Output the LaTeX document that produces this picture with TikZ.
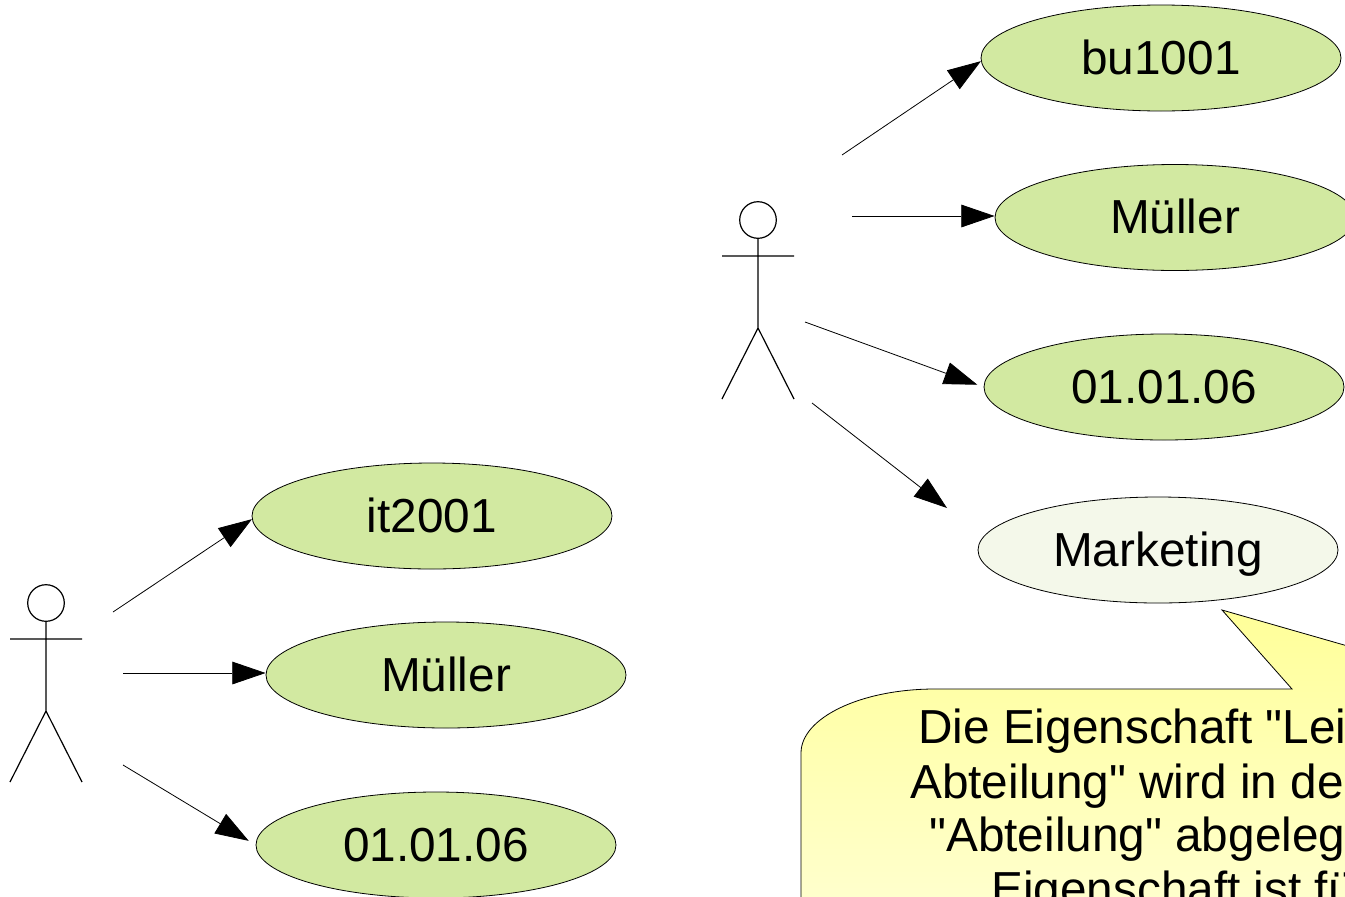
\documentclass[tikz,border=0pt]{standalone}
\usepackage{fontspec}
\setmainfont{Liberation Sans}
\newfontfamily\notefont{Liberation Sans}
\usetikzlibrary{shapes.geometric,arrows.meta}
\definecolor{usegreen}{HTML}{D2E9A1}
\definecolor{usepale}{HTML}{F4F8EA}
\definecolor{notetop}{HTML}{FFFF99}
\definecolor{notebottom}{HTML}{FFFFD2}
\tikzset{
  usecase/.style={ellipse,draw,line width=0.6pt,fill=usegreen,minimum width=270pt,minimum height=79.5pt,inner sep=0pt,text height=24.5pt,text depth=0pt,font=\fontsize{35.8}{40}\selectfont},
  assoc/.style={line width=0.6pt,-{Triangle[length=25pt,width=17pt]}},
  noteline/.style={anchor=base west,inner sep=0pt,font=\notefont\fontsize{35.8}{40}\selectfont},
  actor/.pic={
    \draw[line width=0.9pt] (0,0) circle (18.3);
    \draw[line width=0.9pt] (0,-18.3) -- (0,-108) (-36,-36) -- (36,-36) (-36,-179) -- (0,-108) -- (36,-179);
  }
}
\begin{document}
\begin{tikzpicture}[x=0.75pt,y=0.75pt]
  \useasboundingbox (0,0) rectangle (1345,-896);

  % note
  \path[draw,line width=0.6pt,top color=notetop,bottom color=notebottom]
    (801,-930) -- (801,-753) arc[start angle=180,end angle=90,x radius=134,y radius=64]
    -- (1292,-689) -- (1222,-610) -- (1400,-661) -- (1400,-930) -- cycle;
  \node[noteline] (n1) at (918,-743) {Die Eigenschaft "Lei};
  \node[noteline] (n2) at (910,-798) {Abteilung" wird in de};
  \node[noteline] (n3) at (929,-851) {"Abteilung" abgeleg};
  \node[noteline] (n4) at (991,-905) {Eigenschaft ist fü};

  % right group
  \pic at (758,-220) {actor};
  \node[usecase] (b1) at (1161,-58) {bu1001};
  \node[usecase] (b2) at (1175,-217.5) {Müller};
  \node[usecase] (b3) at (1164,-387) {01.01.06};
  \node[usecase,fill=usepale] (b4) at (1158,-550) {Marketing};

  \coordinate (r1) at (842,-155);
  \coordinate (r2) at (852,-216);
  \coordinate (r3) at (805,-322);
  \coordinate (r4) at (812,-403);
  \coordinate (r5) at (947,-508);

  \draw[assoc] (r1) to (b1.181);
  \draw[assoc] (r2) to (r2 -| b2.west);
  \draw[assoc,shorten >=5pt] (r3) to (b3.west);
  \draw[assoc] (r4) to (r5);

  % left group
  \pic at (46,-603) {actor};
  \node[usecase] (a1) at (432,-516) {it2001};
  \node[usecase] (a2) at (446,-675) {Müller};
  \node[usecase] (a3) at (436,-845) {01.01.06};

  \coordinate (l1) at (113,-612);
  \coordinate (l2) at (123,-673);
  \coordinate (l3) at (123,-765);

  \draw[assoc] (l1) to (a1.181);
  \draw[assoc] (l2) to (l2 -| a2.west);
  \draw[assoc,shorten >=6pt] (l3) to (a3.west);
\end{tikzpicture}
\end{document}
